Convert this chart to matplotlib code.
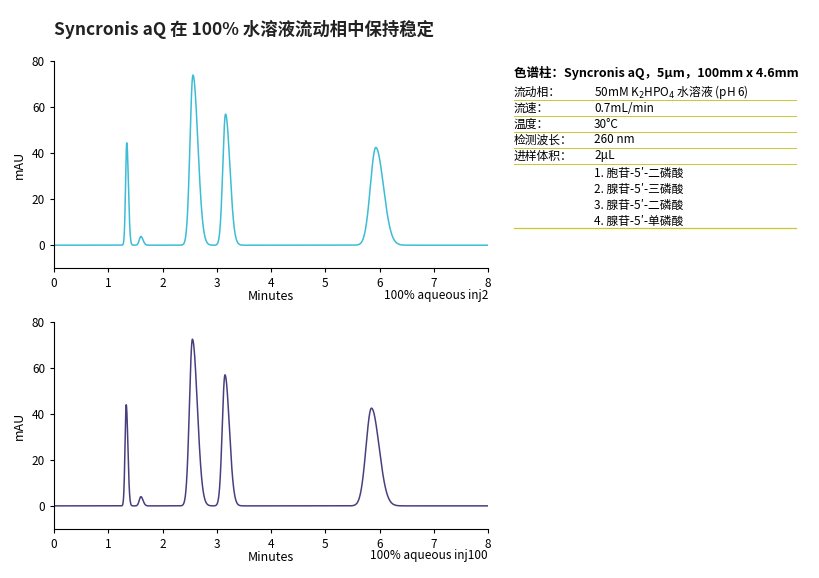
import numpy as np
import matplotlib.pyplot as plt

plt.rcParams['font.family'] = ['Noto Sans CJK SC', 'DejaVu Sans']

# peak tables: retention time (min), height (mAU), width sigma (min), tail sigma
rt_top = [1.34, 1.60, 2.56, 3.16, 5.93]
h_top = [44.5, 3.8, 74.0, 57.0, 42.5]
rt_bot = [1.33, 1.60, 2.55, 3.15, 5.85]
h_bot = [44.0, 4.0, 72.5, 57.0, 42.5]
sig = [0.022, 0.03, 0.055, 0.05, 0.1]
tail = [0.03, 0.04, 0.09, 0.08, 0.14]

t = np.linspace(0, 8, 4000)


def trace(rts, hs):
    y = np.zeros_like(t)
    for r, h, s, ts in zip(rts, hs, sig, tail):
        d = t - r
        w = np.where(d < 0, s, ts)
        y += h * np.exp(-0.5 * (d / w) ** 2)
    return y


fig = plt.figure(figsize=(8.19, 5.78), dpi=100)
fig.text(0.066, 0.94, 'Syncronis aQ 在 100% 水溶液流动相中保持稳定',
         fontsize=12.5, fontweight='bold', color='#222222')

for (b, rts, hs, col, lab) in [(0.536, rt_top, h_top, '#3dbcd6', '100% aqueous inj2'),
                               (0.085, rt_bot, h_bot, '#4a3f7e', '100% aqueous inj100')]:
    ax = fig.add_axes([0.066, b, 0.53, 0.358])
    ax.plot(t, trace(rts, hs), color=col, lw=1.1)
    ax.set_xlim(0, 8)
    ax.set_ylim(-10, 80)
    ax.set_xticks(range(9))
    ax.set_yticks([0, 20, 40, 60, 80])
    for s in ['top', 'right']:
        ax.spines[s].set_visible(False)
    ax.tick_params(labelsize=8.5, length=3)
    ax.set_ylabel('mAU', fontsize=9)
    ax.set_xlabel('Minutes', fontsize=9, labelpad=0)
    ax.text(1.0, -0.13, lab, transform=ax.transAxes, ha='right', va='center', fontsize=8.5)

# info table
x0, x1, xv = 514 / 819, 796 / 819, 594 / 819
fig.text(x0, 1 - 73 / 578, '色谱柱：Syncronis aQ，5μm，100mm x 4.6mm',
         fontsize=9, fontweight='bold', va='center')
keys = ['流动相：', '流速：', '温度：', '检测波长：', '进样体积：']
vals = ['50mM K$_2$HPO$_4$ 水溶液 (pH 6)', '0.7mL/min', '30°C', '260 nm', '2μL']
comps = ['1. 胞苷-5′-二磷酸', '2. 腺苷-5′-三磷酸', '3. 腺苷-5′-二磷酸', '4. 腺苷-5′-单磷酸']
line_col = '#c8c832'
for i, (k, v) in enumerate(zip(keys, vals)):
    y = 1 - (92 + 16 * i) / 578
    fig.text(x0, y, k, fontsize=8.5, va='center')
    fig.text(xv, y, v, fontsize=8.5, va='center')
    ly = 1 - (100 + 16 * i) / 578
    fig.add_artist(plt.Line2D([x0, x1], [ly, ly], color=line_col, lw=0.7))
for i, c in enumerate(comps):
    y = 1 - (173 + 16 * i) / 578
    fig.text(xv, y, c, fontsize=8.5, va='center')
ly = 1 - 228 / 578
fig.add_artist(plt.Line2D([x0, x1], [ly, ly], color=line_col, lw=0.9))

fig.savefig('out.png', dpi=100)
